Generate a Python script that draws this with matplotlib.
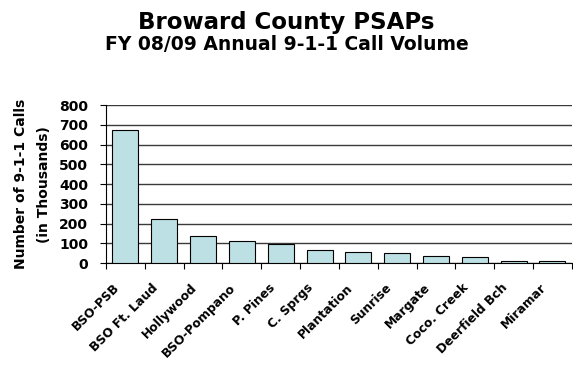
import numpy as np
import matplotlib.pyplot as plt
from matplotlib.transforms import ScaledTranslation

plt.rcParams['font.family'] = ['DejaVu Sans']

psaps = ['BSO-PSB', 'BSO Ft. Laud', 'Hollywood', 'BSO-Pompano', 'P. Pines',
         'C. Sprgs', 'Plantation', 'Sunrise', 'Margate', 'Coco. Creek',
         'Deerfield Bch', 'Miramar']
calls = [672, 223, 140, 113, 98, 69, 57, 52, 37, 32, 12, 10]
yticks = [0, 100, 200, 300, 400, 500, 600, 700, 800]

fig = plt.figure(figsize=(5.73, 3.65), dpi=100)
ax = fig.add_axes([0.185, 0.279, 0.813, 0.433])

x = np.arange(len(psaps))
ax.bar(x, calls, width=0.67, color='#BCE0E3', edgecolor='black', linewidth=0.8, zorder=3)

ax.set_xlim(-0.5, len(psaps) - 0.5)
ax.set_ylim(0, 800)
ax.set_yticks(yticks)
ax.set_yticklabels([str(v) for v in yticks], fontsize=10, fontweight='bold')
ax.yaxis.grid(True, color='#3a3a3a', linewidth=1.0, zorder=0)
ax.tick_params(axis='y', length=4, width=0.8, direction='out', pad=9)

ax.set_xticks(x)
ax.set_xticklabels(psaps, rotation=45, ha='right', rotation_mode='anchor',
                   fontsize=8.8, fontweight='bold')
ax.tick_params(axis='x', which='major', length=0, pad=13)
ax.set_xticks(np.arange(-0.5, len(psaps)), minor=True)
ax.tick_params(axis='x', which='minor', length=4, direction='out', width=0.8)

# nudge the slanted labels a little to the left, like the original
shift = ScaledTranslation(-9 / 72, 0, fig.dpi_scale_trans)
for lbl in ax.get_xticklabels():
    lbl.set_transform(lbl.get_transform() + shift)

for s in ['top', 'right']:
    ax.spines[s].set_visible(False)
ax.spines['left'].set_color('black')
ax.spines['bottom'].set_color('black')

ax.set_ylabel('Number of 9-1-1 Calls\n(in Thousands)', fontsize=10, fontweight='bold',
              linespacing=1.75, labelpad=6)

fig.text(0.5, 0.937, 'Broward County PSAPs', ha='center', va='center',
         fontsize=16.5, fontweight='bold')
fig.text(0.5, 0.877, 'FY 08/09 Annual 9-1-1 Call Volume', ha='center', va='center',
         fontsize=13.5, fontweight='bold')

fig.savefig('out.png', dpi=100)
